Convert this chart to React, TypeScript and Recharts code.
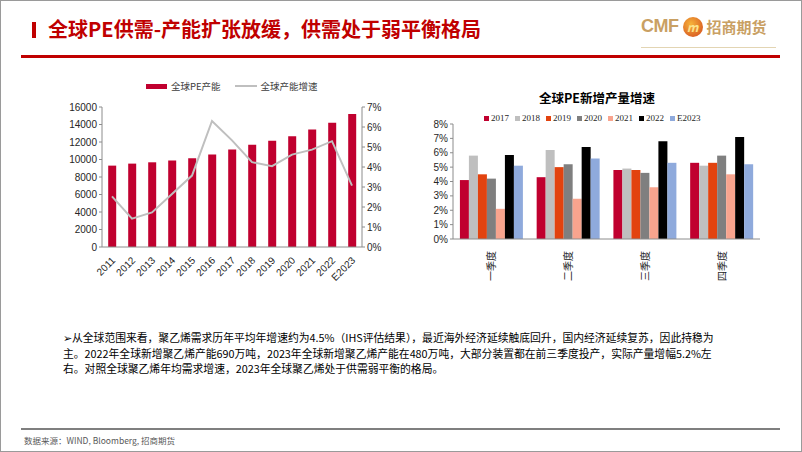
import React from 'react';
import { ComposedChart, BarChart, Bar, Line, XAxis, YAxis } from 'recharts';

// left chart: global PE capacity (kt) and growth (%)
const years = ['2011', '2012', '2013', '2014', '2015', '2016', '2017', '2018', '2019', '2020', '2021', '2022', 'E2023'];
const capacity = [9300, 9530, 9680, 9880, 10140, 10570, 11140, 11680, 12130, 12670, 13440, 14200, 15200];
const capGrowth = [2.53, 1.42, 1.73, 2.65, 3.57, 6.3, 5.33, 4.24, 4.04, 4.62, 4.87, 5.29, 3.07];
const capTicks = [0, 2000, 4000, 6000, 8000, 10000, 12000, 14000, 16000];
const pctTicksLeft = [0, 1, 2, 3, 4, 5, 6, 7];

// right chart: quarterly output growth (%) by year
const quarters = ['一季度', '二季度', '三季度', '四季度'];
const seriesNames = ['2017', '2018', '2019', '2020', '2021', '2022', 'E2023'];
const g2017 = [4.1, 4.3, 4.8, 5.3];
const g2018 = [5.8, 6.2, 4.9, 5.1];
const g2019 = [4.5, 5.0, 4.8, 5.3];
const g2020 = [4.2, 5.2, 4.6, 5.8];
const g2021 = [2.1, 2.8, 3.6, 4.5];
const g2022 = [5.85, 6.4, 6.8, 7.1];
const gE2023 = [5.1, 5.6, 5.3, 5.2];
const pctTicksRight = [0, 1, 2, 3, 4, 5, 6, 7, 8];

const seriesColors = ['#C0002F', '#BFBFBF', '#E2430F', '#7F7F7F', '#F8A48E', '#000000', '#8FAADC'];

const leftData = years.map((y, i) => ({ year: y, cap: capacity[i], growth: capGrowth[i] }));
const seriesValues = [g2017, g2018, g2019, g2020, g2021, g2022, gE2023];
const rightData = quarters.map((q, i) => {
  const row: any = { q };
  seriesNames.forEach((s, j) => (row[s] = seriesValues[j][i]));
  return row;
});

const CJK = '"Noto Sans CJK SC", "Noto Sans", sans-serif';
const ARIAL = '"Liberation Sans", Arial, sans-serif';
const SERIF = '"Liberation Serif", "Times New Roman", serif';

const axisColor = '#8C8C8C';
const tickText = { fontSize: 10, fill: '#262626', fontFamily: ARIAL };

const YearTick = ({ x, y, payload }: any) => (
  <g transform={`translate(${x + 4},${y + 6})`}>
    <text textAnchor="end" transform="rotate(-45)" fontSize={10} fill="#262626" fontFamily={ARIAL}>
      {payload.value}
    </text>
  </g>
);

const QuarterTick = ({ x, y, payload }: any) => (
  <g transform={`translate(${x + 4},${y + 4})`}>
    <text textAnchor="end" transform="rotate(-90)" fontSize={10} fill="#262626" fontFamily={CJK}>
      {payload.value}
    </text>
  </g>
);

const notes = [
  '➢从全球范围来看，聚乙烯需求历年平均年增速约为4.5%（IHS评估结果），最近海外经济延续触底回升，国内经济延续复苏，因此持稳为',
  '主。2022年全球新增聚乙烯产能690万吨，2023年全球新增聚乙烯产能在480万吨，大部分装置都在前三季度投产，实际产量增幅5.2%左',
  '右。对照全球聚乙烯年均需求增速，2023年全球聚乙烯处于供需弱平衡的格局。',
];

export default function App() {
  return (
    <div style={{ position: 'absolute', left: 0, top: 0, width: 800, height: 450, border: '1px solid #9A9A9A', background: '#fff', fontFamily: CJK, overflow: 'hidden' }}>
      {/* header */}
      <div style={{ position: 'absolute', left: 31, top: 21, width: 4, height: 16, background: '#C00000' }} />
      <div style={{ position: 'absolute', left: 47, top: 14, fontSize: 20, fontWeight: 700, color: '#C00000', whiteSpace: 'nowrap', lineHeight: '28px' }}>
        全球PE供需-产能扩张放缓，供需处于弱平衡格局
      </div>
      <div style={{ position: 'absolute', left: 640, top: 15, display: 'flex', alignItems: 'center', color: '#C9A063', whiteSpace: 'nowrap' }}>
        <span style={{ fontFamily: ARIAL, fontSize: 18, fontWeight: 700, letterSpacing: -0.5 }}>CMF</span>
        <span style={{ width: 20, height: 20, borderRadius: 10, margin: '0 4px', background: 'radial-gradient(circle at 40% 35%, #F6B33A, #D2461C)', color: '#FCE28A', fontSize: 12, fontWeight: 700, fontStyle: 'italic', textAlign: 'center', lineHeight: '20px' }}>m</span>
        <span style={{ fontSize: 15, fontWeight: 700 }}>招商期货</span>
      </div>
      <div style={{ position: 'absolute', left: 640, top: 46, width: 135, height: 1, background: '#E3D5B3' }} />
      <div style={{ position: 'absolute', left: 20, top: 54, width: 759, height: 3, background: '#C00000' }} />

      {/* left chart legend */}
      <div style={{ position: 'absolute', left: 145, top: 79, height: 12, display: 'flex', alignItems: 'center', fontSize: 9.5, color: '#404040', whiteSpace: 'nowrap' }}>
        <span style={{ width: 21, height: 5, background: '#C0002F', marginRight: 4 }} />
        <span style={{ marginRight: 14 }}>全球PE产能</span>
        <span style={{ width: 22, height: 2, background: '#BFBFBF', marginRight: 4 }} />
        <span>全球产能增速</span>
      </div>

      {/* left chart */}
      <div style={{ position: 'absolute', left: 49, top: 74 }}>
        <ComposedChart width={350} height={212} data={leftData} margin={{ top: 32, right: 8, left: 0, bottom: 6 }} barCategoryGap="31%">
          <XAxis dataKey="year" interval={0} tick={<YearTick />} tickLine={false} axisLine={{ stroke: axisColor }} height={34} />
          <YAxis yAxisId="l" domain={[0, 16000]} ticks={capTicks} interval={0} width={52} tick={tickText} tickSize={3} tickLine={{ stroke: axisColor }} axisLine={{ stroke: axisColor }} />
          <YAxis yAxisId="r" orientation="right" domain={[0, 7]} ticks={pctTicksLeft} interval={0} tickFormatter={(v) => `${v}%`} width={30} tick={tickText} tickSize={3} tickLine={{ stroke: axisColor }} axisLine={{ stroke: axisColor }} />
          <Bar yAxisId="l" dataKey="cap" fill="#C0002F" isAnimationActive={false} />
          <Line yAxisId="r" dataKey="growth" stroke="#BFBFBF" strokeWidth={2} dot={false} isAnimationActive={false} />
        </ComposedChart>
      </div>

      {/* right chart title + legend */}
      <div style={{ position: 'absolute', left: 538, top: 88, fontWeight: 700, fontSize: 12.5, color: '#000', lineHeight: '18px', whiteSpace: 'nowrap' }}>
        全球PE新增产量增速
      </div>
      <div style={{ position: 'absolute', left: 483, top: 111, height: 12, display: 'flex', alignItems: 'center', fontFamily: SERIF, fontSize: 9, color: '#262626', whiteSpace: 'nowrap' }}>
        {seriesNames.map((s, i) => (
          <span key={s} style={{ display: 'flex', alignItems: 'center', marginRight: 6 }}>
            <span style={{ width: 5, height: 5, background: seriesColors[i], marginRight: 2 }} />
            {s}
          </span>
        ))}
      </div>

      {/* right chart */}
      <div style={{ position: 'absolute', left: 409, top: 81 }}>
        <BarChart width={361} height={215} data={rightData} margin={{ top: 42, right: 11, left: 0, bottom: 8 }} barCategoryGap="9%" barGap={0}>
          <XAxis dataKey="q" interval={0} tick={<QuarterTick />} tickLine={false} axisLine={{ stroke: axisColor }} height={50} />
          <YAxis domain={[0, 8]} ticks={pctTicksRight} interval={0} tickFormatter={(v) => `${v}%`} width={43} tick={tickText} tickSize={3} tickLine={{ stroke: axisColor }} axisLine={{ stroke: axisColor }} />
          {seriesNames.map((s, i) => (
            <Bar key={s} dataKey={s} fill={seriesColors[i]} isAnimationActive={false} />
          ))}
        </BarChart>
      </div>

      {/* commentary */}
      {notes.map((t, i) => (
        <div key={i} style={{ position: 'absolute', left: 62, top: 329 + i * 15.7, height: 15.7, fontSize: 10.8, lineHeight: '15.7px', color: '#000', whiteSpace: 'nowrap' }}>
          {t}
        </div>
      ))}

      {/* footer */}
      <div style={{ position: 'absolute', left: 20, top: 427, width: 759, height: 2, background: '#7F7F7F' }} />
      <div style={{ position: 'absolute', left: 23, top: 433, fontSize: 8.5, color: '#595959', whiteSpace: 'nowrap' }}>
        数据来源：WIND, Bloomberg, 招商期货
      </div>
    </div>
  );
}
